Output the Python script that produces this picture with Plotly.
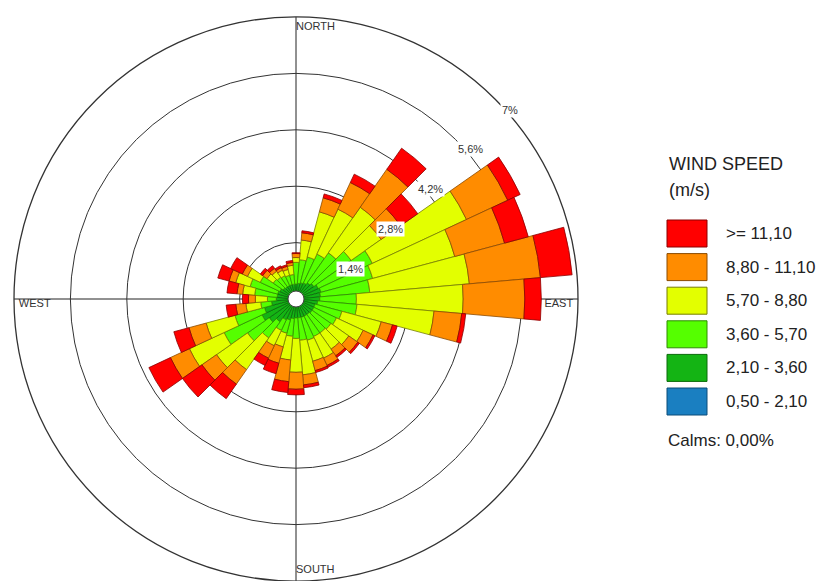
import math
import plotly.graph_objects as go

# ---------------- data (percent frequency per direction / speed class) ----------------
directions = list(range(0, 360, 10))

blue   = [0.12, 0.12, 0.13, 0.13, 0.14, 0.14, 0.15, 0.15, 0.15, 0.14, 0.14, 0.13,
          0.13, 0.13, 0.12, 0.12, 0.12, 0.12, 0.12, 0.12, 0.12, 0.12, 0.13, 0.14,
          0.15, 0.14, 0.13, 0.12, 0.12, 0.12, 0.12, 0.11, 0.11, 0.11, 0.11, 0.11]
dgreen = [0.25, 0.27, 0.29, 0.31, 0.35, 0.40, 0.46, 0.49, 0.46, 0.45, 0.40, 0.36,
          0.36, 0.36, 0.35, 0.35, 0.35, 0.35, 0.35, 0.37, 0.42, 0.45, 0.56, 0.67,
          0.78, 0.67, 0.48, 0.37, 0.35, 0.35, 0.32, 0.28, 0.26, 0.26, 0.26, 0.26]
lgreen = [0.54, 0.59, 0.66, 0.79, 0.91, 1.13, 1.48, 1.33, 1.23, 0.91, 0.98, 0.69,
          0.62, 0.57, 0.56, 0.56, 0.59, 0.56, 0.51, 0.44, 0.34, 0.29, 0.49, 0.66,
          1.04, 0.76, 0.27, 0.22, 0.56, 0.71, 0.54, 0.30, 0.29, 0.27, 0.24, 0.24]
yellow = [0.12, 0.49, 1.16, 1.23, 1.38, 0.91, 2.58, 2.11, 2.48, 2.65, 1.92, 1.01,
          0.73, 0.54, 0.49, 0.59, 0.54, 0.86, 0.84, 0.59, 0.35, 0.42, 0.96, 0.94,
          0.95, 0.74, 0.37, 0.30, 0.30, 0.37, 0.35, 0.19, 0.18, 0.15, 0.15, 0.23]
orange = [0.10, 0.18, 0.36, 0.73, 1.15, 0.59, 1.13, 1.28, 1.77, 1.53, 0.69, 0.29,
          0.27, 0.27, 0.20, 0.20, 0.24, 0.25, 0.42, 0.54, 0.42, 0.34, 0.44, 0.44,
          0.52, 0.44, 0.25, 0.17, 0.14, 0.17, 0.14, 0.13, 0.09, 0.07, 0.08, 0.07]
red    = [0.02, 0.05, 0.10, 0.23, 0.64, 0.52, 0.34, 0.61, 0.79, 0.41, 0.10, 0.12,
          0.05, 0.05, 0.05, 0.05, 0.05, 0.07, 0.14, 0.27, 0.27, 0.20, 0.44, 0.59,
          0.59, 0.39, 0.24, 0.15, 0.25, 0.29, 0.32, 0.07, 0.08, 0.05, 0.04, 0.05]

bin_labels = ["0,50 - 2,10", "2,10 - 3,60", "3,60 - 5,70",
              "5,70 - 8,80", "8,80 - 11,10", ">= 11,10"]
bin_values = [blue, dgreen, lgreen, yellow, orange, red]
bin_colors = ["#1A7FC1", "#14B414", "#55FF00", "#E3FF00", "#FF8C00", "#FF0000"]
bin_edges  = ["#0B4C78", "#0A6B0A", "#2E8B00", "#767D00", "#8B4A00", "#8B0000"]

ring_vals = [1.4, 2.8, 4.2, 5.6, 7]
ring_text = ["1,4%", "2,8%", "4,2%", "5,6%", "7%"]
r_max = 7

compass_names = ["NORTH", "EAST", "SOUTH", "WEST"]
compass_theta = [0, 90, 180, 270]
compass_pos = ["bottom right", "bottom left", "top right", "bottom right"]
compass_r = 6.88  # labels sit just inside the outer ring

legend_title = ["WIND SPEED", "(m/s)"]
calms_text = "Calms: 0,00%"

FONT = "Liberation Sans, Arial, sans-serif"

# The page body has an 8px margin: work in screen pixels and subtract it.
OFF = 8
W, H = 826 - OFF, 581 - OFF


def px(x):
    return (x - OFF) / W


def py(y):
    return 1 - (y - OFF) / H


fig = go.Figure()

for vals, name, col, edge in zip(bin_values, bin_labels, bin_colors, bin_edges):
    fig.add_trace(go.Barpolar(
        r=vals, theta=directions, width=[10] * len(directions), name=name,
        marker=dict(color=col, line=dict(color=edge, width=0.8)),
        showlegend=False, hoverinfo="skip"))

# central hub
fig.add_trace(go.Scatterpolar(
    r=[0], theta=[0], mode="markers", showlegend=False, hoverinfo="skip",
    marker=dict(size=16, color="white", line=dict(color="#444", width=1))))

# compass labels
fig.add_trace(go.Scatterpolar(
    r=[compass_r] * 4, theta=compass_theta, mode="text", text=compass_names,
    textposition=compass_pos, cliponaxis=False, showlegend=False, hoverinfo="skip",
    textfont=dict(family=FONT, size=11, color="#333")))

# polar geometry (square domain, screen pixels)
R = 282
cx, cy = 296, 299
dom_x = [px(cx - R), px(cx + R)]
dom_y = [max(0, py(cy + R)), py(cy - R)]

fig.update_layout(
    width=W, height=H, margin=dict(l=0, r=0, t=0, b=0),
    paper_bgcolor="white", plot_bgcolor="white",
    font=dict(family=FONT, color="#222"),
    polar=dict(
        domain=dict(x=dom_x, y=dom_y),
        bgcolor="white", barmode="stack", bargap=0,
        angularaxis=dict(rotation=90, direction="clockwise",
                         tickvals=compass_theta, showticklabels=False, ticks="",
                         showgrid=True, gridcolor="#222", gridwidth=1.2,
                         showline=True, linecolor="#333", linewidth=1.3,
                         layer="below traces"),
        radialaxis=dict(range=[0, r_max], tickvals=ring_vals,
                        showticklabels=False, showline=False, ticks="",
                        showgrid=True, gridcolor="#333", gridwidth=1.2,
                        layer="below traces"),
    ),
)

annotations = []
# ring labels along the 45 degree bearing, horizontal text on white boxes
lab_bearing = math.radians(45)
for v, t in zip(ring_vals, ring_text):
    rp = v / r_max * R
    annotations.append(dict(
        text=t, x=px(cx + rp * math.sin(lab_bearing)), y=py(cy - rp * math.cos(lab_bearing)),
        xref="paper", yref="paper", xanchor="center", yanchor="middle",
        xshift=15, yshift=-10, showarrow=False, bgcolor="white", borderpad=1,
        font=dict(family=FONT, size=11, color="#333")))

# ---------------- legend (drawn manually) ----------------
box_x0, box_x1 = 667, 707
box_top0, box_h, box_pitch = 220, 27, 33.6
annotations += [
    dict(text=legend_title[0], x=px(667), y=py(164), xref="paper", yref="paper",
         xanchor="left", yanchor="middle", showarrow=False,
         font=dict(family=FONT, size=18, color="#222")),
    dict(text=legend_title[1], x=px(667), y=py(190), xref="paper", yref="paper",
         xanchor="left", yanchor="middle", showarrow=False,
         font=dict(family=FONT, size=18, color="#222")),
    dict(text=calms_text, x=px(666), y=py(440), xref="paper", yref="paper",
         xanchor="left", yanchor="middle", showarrow=False,
         font=dict(family=FONT, size=17, color="#222")),
]
shapes = []
legend_order = list(range(len(bin_labels)))[::-1]  # highest speed on top
for i, k in enumerate(legend_order):
    top = box_top0 + i * box_pitch
    shapes.append(dict(type="rect", xref="paper", yref="paper",
                       x0=px(box_x0), x1=px(box_x1),
                       y0=py(top + box_h), y1=py(top),
                       fillcolor=bin_colors[k], line=dict(color=bin_edges[k], width=1)))
    annotations.append(dict(text=bin_labels[k], x=px(724), y=py(top + box_h / 2),
                            xref="paper", yref="paper", xanchor="left", yanchor="middle",
                            showarrow=False, font=dict(family=FONT, size=17, color="#222")))

fig.update_layout(shapes=shapes, annotations=annotations)

fig.write_html("out.html")
